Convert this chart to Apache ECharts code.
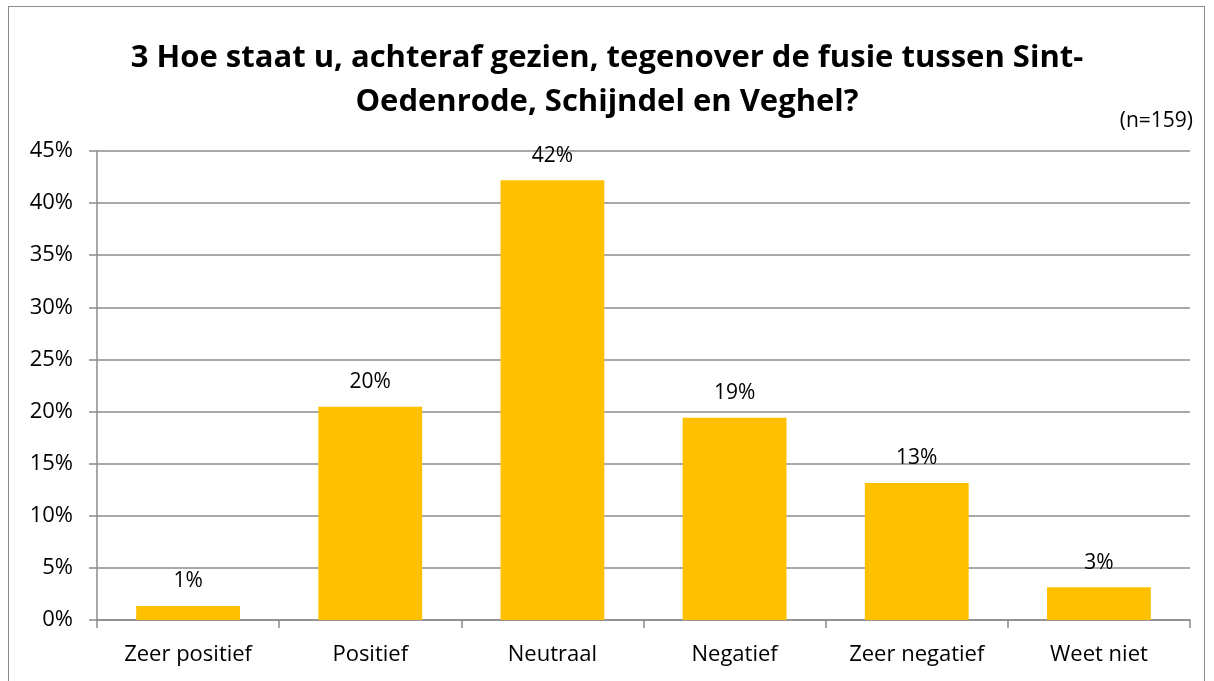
<!DOCTYPE html>
<html>
<head>
<meta charset="utf-8">
<title>Fusie Sint-Oedenrode, Schijndel en Veghel</title>
<style>
  html, body { margin: 0; padding: 0; background: #fff; }
  #frame { position: absolute; left: 8px; top: 6px; width: 1197px; height: 690px; border: 1px solid #8c8c8c; box-sizing: border-box; }
  #main { position: absolute; left: 0; top: 0; width: 1214px; height: 681px; }
</style>
</head>
<body>
<div id="frame"></div>
<div id="main"></div>
<script src="https://cdn.jsdelivr.net/npm/echarts@6/dist/echarts.min.js"></script>
<script>
var categories = ['Zeer positief', 'Positief', 'Neutraal', 'Negatief', 'Zeer negatief', 'Weet niet'];
var percentages = [1.35, 20.45, 42.2, 19.4, 13.15, 3.15];
var yTicks = [0, 5, 10, 15, 20, 25, 30, 35, 40, 45];

var font = '"Open Sans", Lato, sans-serif';
var chart = echarts.init(document.getElementById('main'));

chart.setOption({
  animation: false,
  title: [{
    text: '3 Hoe staat u, achteraf gezien, tegenover de fusie tussen Sint-\nOedenrode, Schijndel en Veghel?',
    left: 'center',
    top: 31,
    textStyle: { fontFamily: font, fontSize: 31, fontWeight: 'bold', color: '#000', lineHeight: 44, align: 'center' }
  }, {
    text: '(n=159)',
    right: 16,
    top: 106,
    textStyle: { fontFamily: font, fontSize: 21, fontWeight: 'normal', color: '#000' }
  }],
  grid: { left: 97, right: 24, top: 151, bottom: 61, containLabel: false },
  xAxis: {
    type: 'category',
    data: categories,
    axisLine: { lineStyle: { color: '#8c8c8c', width: 1.5 } },
    axisTick: { show: true, length: 8, alignWithLabel: false, lineStyle: { color: '#8c8c8c', width: 1.5 } },
    axisLabel: { fontFamily: font, fontSize: 22, color: '#000', margin: 24 }
  },
  yAxis: {
    type: 'value',
    min: yTicks[0],
    max: yTicks[yTicks.length - 1],
    interval: 5,
    axisLine: { show: true, lineStyle: { color: '#8c8c8c', width: 1.5 } },
    axisTick: { show: true, length: 8, lineStyle: { color: '#8c8c8c', width: 1.5 } },
    splitLine: { lineStyle: { color: '#8c8c8c', width: 1.5 } },
    axisLabel: { fontFamily: font, fontSize: 22, color: '#000', margin: 24, formatter: '{value}%' }
  },
  series: [{
    type: 'bar',
    data: percentages,
    barCategoryGap: '43%',
    itemStyle: { color: '#FFC000' },
    label: {
      show: true,
      position: 'top',
      distance: 14,
      fontFamily: font,
      fontSize: 21,
      color: '#000',
      formatter: function (p) { return Math.round(p.value) + '%'; }
    }
  }]
});
</script>
</body>
</html>
